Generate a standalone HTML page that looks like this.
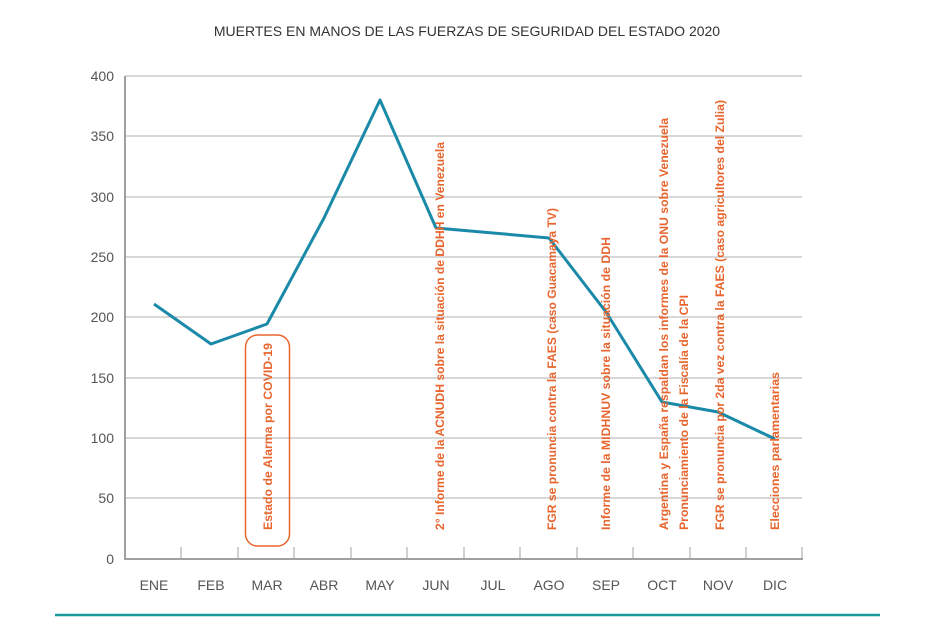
<!DOCTYPE html>
<html><head><meta charset="utf-8"><style>
html,body{margin:0;padding:0;background:#fff;}
svg{display:block;}
</style></head><body>
<svg width="931" height="638" viewBox="0 0 931 638" xmlns="http://www.w3.org/2000/svg" font-family="Liberation Sans, sans-serif">
<rect width="931" height="638" fill="#fff"/>
<text x="467" y="36" text-anchor="middle" font-size="14" fill="#333">MUERTES EN MANOS DE LAS FUERZAS DE SEGURIDAD DEL ESTADO 2020</text>
<g stroke="#b0b0b0" stroke-width="1">
<line x1="125" y1="76" x2="802" y2="76"/>
<line x1="125" y1="136" x2="802" y2="136"/>
<line x1="125" y1="197" x2="802" y2="197"/>
<line x1="125" y1="257" x2="802" y2="257"/>
<line x1="125" y1="317" x2="802" y2="317"/>
<line x1="125" y1="378" x2="802" y2="378"/>
<line x1="125" y1="438" x2="802" y2="438"/>
<line x1="125" y1="498" x2="802" y2="498"/>
</g>
<g stroke="#a0a0a0" stroke-width="2">
<line x1="125" y1="76" x2="125" y2="559"/>
<line x1="124" y1="559" x2="803" y2="559"/>
</g>
<g stroke="#a0a0a0" stroke-width="1">
<line x1="181" y1="547" x2="181" y2="559"/><line x1="238" y1="547" x2="238" y2="559"/>
<line x1="294" y1="547" x2="294" y2="559"/><line x1="351" y1="547" x2="351" y2="559"/>
<line x1="407" y1="547" x2="407" y2="559"/><line x1="464" y1="547" x2="464" y2="559"/>
<line x1="520" y1="547" x2="520" y2="559"/><line x1="577" y1="547" x2="577" y2="559"/>
<line x1="633" y1="547" x2="633" y2="559"/><line x1="690" y1="547" x2="690" y2="559"/>
<line x1="746" y1="547" x2="746" y2="559"/><line x1="802" y1="547" x2="802" y2="559"/>
</g>
<g font-size="14" fill="#555" text-anchor="end">
<text x="114" y="81">400</text><text x="114" y="141">350</text><text x="114" y="202">300</text>
<text x="114" y="262">250</text><text x="114" y="322">200</text><text x="114" y="383">150</text>
<text x="114" y="443">100</text><text x="114" y="503">50</text><text x="114" y="564">0</text>
</g>
<g font-size="14" fill="#555" text-anchor="middle">
<text x="154" y="590">ENE</text><text x="211" y="590">FEB</text><text x="267" y="590">MAR</text>
<text x="324" y="590">ABR</text><text x="380" y="590">MAY</text><text x="436" y="590">JUN</text>
<text x="493" y="590">JUL</text><text x="549" y="590">AGO</text><text x="606" y="590">SEP</text>
<text x="662" y="590">OCT</text><text x="718" y="590">NOV</text><text x="775" y="590">DIC</text>
</g>
<polyline fill="none" stroke="#1a8aa8" stroke-width="3" stroke-linejoin="round" points="154,304 211,344 267,324 324,218 380,100 436,228 493,233 549,238 606,312 662,402 718,412 775,439"/>
<rect x="245.5" y="335" width="44" height="211" rx="12" fill="none" stroke="#e8652e" stroke-width="1.5"/>
<g font-size="11.5" font-weight="bold" fill="#e8652e">
<text transform="translate(272,530) rotate(-90)" textLength="187" lengthAdjust="spacingAndGlyphs">Estado de Alarma por COVID-19</text>
<text transform="translate(444,530) rotate(-90)" textLength="388" lengthAdjust="spacingAndGlyphs">2° Informe de la ACNUDH sobre la situación de DDHH en Venezuela</text>
<text transform="translate(556,530) rotate(-90)" textLength="322" lengthAdjust="spacingAndGlyphs">FGR se pronuncia contra la FAES (caso Guacamaya TV)</text>
<text transform="translate(610,530) rotate(-90)" textLength="293" lengthAdjust="spacingAndGlyphs">Informe de la MIDHNUV sobre la situación de DDH</text>
<text transform="translate(668,530) rotate(-90)" textLength="412" lengthAdjust="spacingAndGlyphs">Argentina y España respaldan los informes de la ONU sobre Venezuela</text>
<text transform="translate(688,530) rotate(-90)" textLength="235" lengthAdjust="spacingAndGlyphs">Pronunciamiento de la Fiscalía de la CPI</text>
<text transform="translate(724,530) rotate(-90)" textLength="430" lengthAdjust="spacingAndGlyphs">FGR se pronuncia por 2da vez contra la FAES (caso agricultores del Zulia)</text>
<text transform="translate(779,530) rotate(-90)" textLength="158" lengthAdjust="spacingAndGlyphs">Elecciones parlamentarias</text>
</g>
<line x1="55" y1="615" x2="880" y2="615" stroke="#1a9a9a" stroke-width="2.5"/>
</svg>
</body></html>
